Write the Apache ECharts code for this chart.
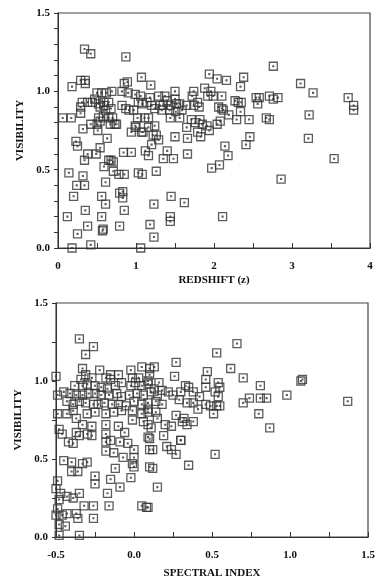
<!DOCTYPE html>
<html>
<head>
<meta charset="utf-8">
<script src="https://cdn.jsdelivr.net/npm/echarts@6/dist/echarts.min.js"></script>
<style>
  html, body { margin: 0; padding: 0; background: #fff; }
  #chart { width: 382px; height: 587px; }
</style>
</head>
<body>
<div id="chart"></div>
<script>
// 上图：红移 vs 可见度
var redshift = [
  0.34,0.42,0.87,2.76,1.94,2.04,2.16,2.38,1.07,0.29,0.35,0.35,0.18,0.85,0.89,1.19,3.11,3.27,3.72,3.79,3.79,3.22,3.21,
  2.34,1.88,1.96,1.92,1.99,2.10,1.74,1.72,1.50,2.71,2.76,2.82,2.54,2.58,2.56,2.27,2.31,2.35,2.34,2.06,2.10,2.12,2.19,
  2.29,2.45,2.46,2.41,2.67,2.71,2.08,2.04,2.86,3.54,
  0.50,0.56,0.62,0.69,0.82,0.90,0.99,1.06,1.18,1.29,1.37,0.31,0.38,0.44,0.52,0.59,0.65,0.29,0.29,0.47,0.54,0.59,0.61,
  0.68,0.82,0.87,0.91,0.97,1.03,1.08,1.14,1.20,1.24,1.31,1.33,0.52,0.58,0.65,0.70,0.54,0.67,0.75,0.06,0.17,0.42,0.50,
  0.32,0.51,0.94,1.00,1.09,1.16,1.24,1.26,1.29,0.63,1.02,1.11,1.16,1.20,1.16,1.12,
  1.50,1.52,1.40,1.44,1.56,1.65,1.74,1.79,1.81,1.59,1.43,1.51,1.35,1.71,1.82,1.76,1.85,1.91,1.94,1.79,1.83,1.65,1.56,
  1.44,1.50,1.66,1.66,1.40,1.35,1.48,2.14,2.18,1.97,2.07,1.45,1.62,1.44,1.44,2.11,
  0.23,0.25,0.54,0.38,0.34,0.49,0.65,0.68,0.71,0.59,0.84,0.94,0.71,0.78,0.85,1.03,1.08,1.26,0.14,0.32,0.34,0.24,0.61,
  0.79,0.83,0.83,0.20,0.56,0.61,1.23,0.85,0.35,0.12,0.56,0.38,0.57,0.58,0.79,1.18,0.25,1.23,0.18,0.42,1.06,
  0.73,0.99,1.22,1.07
];
var visRedshift = [
  1.27,1.24,1.22,1.16,1.11,1.08,1.07,1.09,1.09,1.07,1.07,1.05,1.03,1.05,1.06,1.04,1.05,0.99,0.96,0.91,0.88,0.85,0.70,
  1.03,1.02,1.00,0.97,0.97,0.97,1.00,0.97,1.00,0.97,0.95,0.96,0.96,0.96,0.92,0.94,0.93,0.93,0.87,0.90,0.89,0.88,0.85,
  0.82,0.82,0.71,0.66,0.83,0.82,0.81,0.79,0.44,0.57,
  0.99,0.99,0.99,1.00,1.00,0.99,0.98,0.97,0.96,0.97,0.97,0.93,0.93,0.93,0.92,0.93,0.93,0.90,0.86,0.95,0.90,0.91,0.88,
  0.89,0.91,0.89,0.88,0.88,0.93,0.92,0.93,0.91,0.89,0.91,0.88,0.83,0.84,0.83,0.83,0.81,0.79,0.79,0.83,0.83,0.79,0.79,
  0.76,0.75,0.74,0.77,0.74,0.77,0.78,0.72,0.69,0.70,0.83,0.83,0.83,0.66,0.59,0.62,
  0.95,0.92,0.94,0.91,0.92,0.91,0.91,0.93,0.90,0.88,0.88,0.87,0.91,0.82,0.82,0.80,0.79,0.78,0.75,0.74,0.71,0.77,0.83,
  0.83,0.71,0.70,0.60,0.62,0.57,0.57,0.65,0.59,0.51,0.53,0.33,0.29,0.20,0.17,0.20,
  0.68,0.65,0.64,0.60,0.56,0.60,0.56,0.56,0.55,0.52,0.61,0.61,0.49,0.47,0.47,0.48,0.47,0.49,0.48,0.46,0.40,0.40,0.42,
  0.35,0.36,0.32,0.33,0.33,0.28,0.28,0.24,0.24,0.20,0.20,0.14,0.11,0.12,0.14,0.15,0.09,0.07,0.00,0.02,0.00,
  0.79,0.78,0.72,0.74
];

// 下图：谱指数 vs 可见度
var spectralIndex = [
  -0.35,-0.26,-0.31,0.27,0.53,0.66,0.47,0.46,0.62,0.70,0.81,1.08,1.07,0.98,1.37,0.74,0.81,0.85,0.70,0.80,0.87,-0.50,
  0.54,0.55,0.52,0.54,0.53,0.55,0.51,0.13,0.26,0.46,0.33,0.35,0.30,0.38,0.42,0.46,0.49,0.41,0.38,0.34,0.29,0.25,0.22,
  0.18,0.15,0.11,0.27,0.32,0.34,0.38,0.31,0.20,0.24,0.19,0.11,0.15,0.09,0.30,0.21,0.24,0.27,0.12,0.52,0.35,0.12,0.15,
  0.09,0.09,0.16,0.13,0.14,0.18,0.09,0.14,
  -0.33,-0.22,-0.31,-0.34,-0.27,-0.18,-0.15,-0.10,-0.15,-0.02,0.05,0.10,0.10,0.03,-0.01,0.01,
  -0.38,-0.33,-0.30,-0.25,-0.21,-0.17,-0.12,-0.08,-0.02,0.05,0.09,
  -0.49,-0.45,-0.41,-0.37,-0.33,-0.29,-0.25,-0.21,-0.16,-0.11,-0.08,-0.03,0.02,0.06,
  -0.43,-0.39,-0.35,-0.31,-0.26,-0.23,-0.19,-0.14,-0.10,-0.05,0.00,0.05,0.09,
  -0.49,-0.43,-0.39,-0.30,-0.25,-0.18,-0.13,-0.08,-0.01,0.05,0.09,
  -0.37,-0.33,-0.27,-0.37,-0.18,-0.18,-0.10,-0.06,-0.01,0.06,0.09,0.10,
  -0.48,-0.46,-0.42,-0.39,-0.35,-0.30,-0.27,-0.18,-0.15,-0.18,-0.13,-0.09,-0.04,-0.07,0.00,0.00,-0.01,0.00,0.10,0.10,
  -0.45,-0.40,-0.40,-0.36,-0.33,-0.30,-0.12,-0.25,-0.25,-0.15,-0.17,-0.09,-0.02,
  -0.49,-0.50,-0.47,-0.43,-0.39,-0.35,-0.48,-0.49,-0.50,-0.46,-0.43,-0.37,-0.36,-0.32,-0.26,-0.16,-0.26,0.05,0.08,
  -0.48,-0.44,-0.48,-0.35,0.30
];
var visSpectral = [
  1.27,1.22,1.17,1.12,1.18,1.24,1.06,1.01,1.08,1.02,0.97,1.01,1.00,0.91,0.87,0.89,0.89,0.89,0.86,0.79,0.70,1.03,
  0.99,0.96,0.93,0.90,0.84,0.84,0.79,1.09,1.03,0.96,0.97,0.96,0.93,0.93,0.90,0.85,0.84,0.82,0.86,0.86,0.88,0.91,0.93,
  0.94,0.91,0.93,0.78,0.76,0.72,0.74,0.74,0.72,0.71,0.65,0.70,0.76,0.64,0.62,0.58,0.56,0.53,0.56,0.53,0.46,0.44,0.32,
  0.19,1.00,0.99,0.95,0.87,0.85,0.82,0.80,
  1.08,1.07,1.04,1.01,1.02,1.02,1.04,1.04,1.01,1.07,1.09,1.08,1.04,1.02,1.02,0.99,
  0.97,0.97,0.98,0.97,0.96,0.95,0.97,0.99,0.97,0.97,0.98,
  0.91,0.93,0.92,0.91,0.91,0.92,0.92,0.91,0.91,0.92,0.90,0.91,0.92,0.91,
  0.87,0.85,0.87,0.86,0.85,0.85,0.86,0.85,0.85,0.84,0.87,0.85,0.86,
  0.79,0.79,0.81,0.79,0.80,0.79,0.80,0.81,0.81,0.79,0.80,
  0.76,0.72,0.71,0.67,0.72,0.66,0.71,0.67,0.75,0.74,0.72,0.63,
  0.69,0.66,0.61,0.60,0.65,0.66,0.65,0.61,0.62,0.55,0.54,0.61,0.60,0.51,0.56,0.51,0.47,0.45,0.56,0.45,
  0.49,0.48,0.42,0.42,0.47,0.48,0.44,0.39,0.34,0.37,0.28,0.32,0.38,
  0.36,0.31,0.28,0.26,0.25,0.28,0.24,0.18,0.14,0.14,0.15,0.15,0.12,0.20,0.20,0.20,0.12,0.20,0.19,
  0.08,0.07,0.01,0.01,0.62
];

function zip(xs, ys) {
  return xs.map(function (x, i) { return [x, ys[i]]; });
}

var chart = echarts.init(document.getElementById('chart'));

var serif = '"Liberation Serif", "DejaVu Serif", serif';
// 方框里带小点的符号
var boxSymbol = 'path://M1,1H9V9H1Z M4.6,4.6H5.4V5.4H4.6Z';

function isHalf(v) {
  return Math.abs(v * 2 - Math.round(v * 2)) < 1e-6;
}

var labelStyle = { color: '#111', fontFamily: serif, fontWeight: 'bold', fontSize: 11 };
var nameStyle = { color: '#111', fontFamily: serif, fontWeight: 'bold', fontSize: 11 };
var lineStyle = { color: '#333', width: 1 };

chart.setOption({
  animation: false,
  backgroundColor: '#fff',
  grid: [
    { left: 58, right: 12, top: 13, height: 235, show: true, borderColor: '#444', borderWidth: 1.2 },
    { left: 56, right: 14, top: 303, height: 234, show: true, borderColor: '#444', borderWidth: 1.2 }
  ],
  xAxis: [
    {
      gridIndex: 0, type: 'value', min: 0, max: 4, interval: 0.5,
      name: 'REDSHIFT (z)', nameLocation: 'middle', nameGap: 27, nameTextStyle: nameStyle,
      axisLine: { onZero: false, lineStyle: lineStyle },
      axisTick: { inside: true, length: 5, lineStyle: lineStyle },
      axisLabel: Object.assign({ margin: 13, formatter: function (v) {
        return Math.abs(v - Math.round(v)) < 1e-6 ? String(Math.round(v)) : '';
      } }, labelStyle),
      splitLine: { show: false }
    },
    {
      gridIndex: 1, type: 'value', min: -0.5, max: 1.5, interval: 0.25,
      name: 'SPECTRAL INDEX', nameLocation: 'middle', nameGap: 31, nameTextStyle: nameStyle,
      axisLine: { onZero: false, lineStyle: lineStyle },
      axisTick: { inside: true, length: 5, lineStyle: lineStyle },
      axisLabel: Object.assign({ margin: 13, formatter: function (v) {
        return isHalf(v) ? v.toFixed(1) : '';
      } }, labelStyle),
      splitLine: { show: false }
    }
  ],
  yAxis: [
    {
      gridIndex: 0, type: 'value', min: 0, max: 1.5, interval: 0.1,
      name: 'VISIBILITY', nameLocation: 'middle', nameGap: 29, nameRotate: 90, nameTextStyle: nameStyle,
      axisLine: { onZero: false, lineStyle: lineStyle },
      axisTick: { length: 4, lineStyle: lineStyle },
      axisLabel: Object.assign({ margin: 8, formatter: function (v) {
        return isHalf(v) ? v.toFixed(1) : '';
      } }, labelStyle),
      splitLine: { show: false }
    },
    {
      gridIndex: 1, type: 'value', min: 0, max: 1.5, interval: 0.25,
      name: 'VISIBILITY', nameLocation: 'middle', nameGap: 27, nameRotate: 90, nameTextStyle: nameStyle,
      axisLine: { onZero: false, lineStyle: lineStyle },
      axisTick: { length: 4, lineStyle: lineStyle },
      axisLabel: Object.assign({ margin: 8, formatter: function (v) {
        return isHalf(v) ? v.toFixed(1) : '';
      } }, labelStyle),
      splitLine: { show: false }
    }
  ],
  series: [
    {
      type: 'scatter', xAxisIndex: 0, yAxisIndex: 0,
      data: zip(redshift, visRedshift),
      symbol: boxSymbol, symbolSize: 8,
      itemStyle: { color: 'transparent', borderColor: '#333', borderWidth: 1.3 }
    },
    {
      type: 'scatter', xAxisIndex: 1, yAxisIndex: 1,
      data: zip(spectralIndex, visSpectral),
      symbol: boxSymbol, symbolSize: 8,
      itemStyle: { color: 'transparent', borderColor: '#333', borderWidth: 1.3 }
    }
  ]
});
</script>
</body>
</html>
